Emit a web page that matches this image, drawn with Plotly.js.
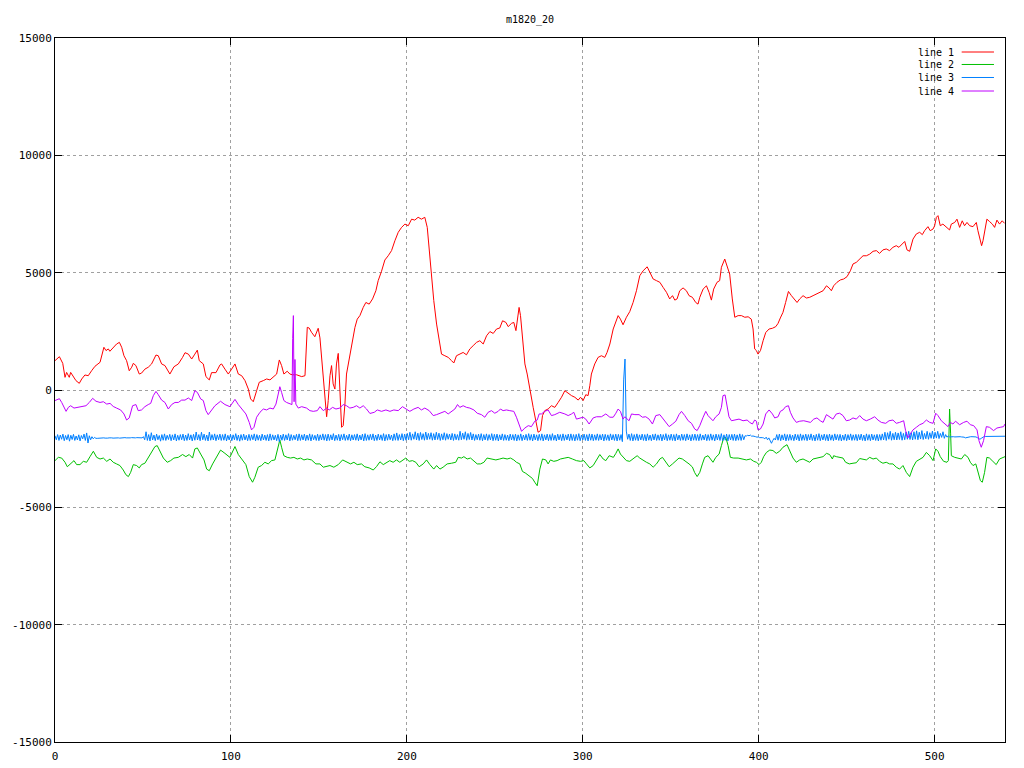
<!DOCTYPE html>
<html><head><meta charset="utf-8">
<script src="https://cdn.plot.ly/plotly-3.0.1.min.js"></script>
<style>html,body{margin:0;padding:0;background:#fff}#chart{width:1024px;height:768px}</style>
</head><body><div id="chart"></div>
<script>
const chartTitle = "m1820_20";
const seriesNames = ["line 1", "line 2", "line 3", "line 4"];
const xTicks = [0, 100, 200, 300, 400, 500];
const yTicks = [-15000, -10000, -5000, 0, 5000, 10000, 15000];

const line1X = [0,2.5,4.4,5.7,6.6,8.1,8.9,10.4,11.9,13.8,15.2,17,18.9,20.8,22.7,25.6,27.8,29,30.3,31.2,33.1,35,36.6,37.9,39.2,40.7,42.2,43.6,44.5,46,47.9,49.2,51.1,53,54.9,56.3,57.4,58.7,60.6,62.5,65.3,67.6,70.1,72.5,73.9,75.8,77.7,79.5,80.9,82,84.3,85.8,87.7,89,91.5,93.8,94.7,96.6,98.5,100.4,102.3,104.2,106.1,108,109.9,111.2,112.7,114.6,116.1,118.4,120.3,122.2,124.1,126,127.5,128.8,130.1,132,133.5,135,137.3,140.2,142.1,143.4,144.5,145.8,147.7,149.6,150.6,152.1,153.4,154.4,155.3,156.3,157.2,158.1,159.1,160,161,161.9,162.9,163.8,164.8,165.7,166.7,167.6,169.1,170.5,171.8,173.3,175.2,176.7,178.6,180.5,182.4,183.7,185.6,187.5,189.4,191.3,193.2,195.1,197,198.9,200.8,202.7,204.5,206.4,208.3,210.2,211.6,212.7,214,215.3,216.9,218.4,219.7,221.6,223.5,225.4,226.7,228.2,230.1,232,233.9,235.8,237.7,239.6,241.5,243.4,245.3,247.2,249.1,251,252.8,254.4,256.3,257.6,259.5,260.8,262,262.9,263.8,264.6,265.7,267.1,268.4,269.9,271.8,273.3,274.6,276,277.1,278.4,280.3,282.2,284.1,286,287.9,289.8,291.7,293.6,295.5,297.4,298.7,300.2,301.7,303,304,304.9,306.8,308.7,310.6,312.5,313.8,315.4,317.3,318.8,320.1,321.4,322.9,324.8,326.7,328.6,330.5,332.4,334.3,336.6,338.1,340,341.9,343.8,345.7,347.6,349.4,351,352.3,353.6,355.1,357,358.9,360.4,362.3,364.2,365.5,366.5,368.4,370.3,371.8,373.1,374.4,376.3,377.8,378.8,380.7,382,383.5,385,386.4,388.3,390.2,392.1,394,395.8,396.8,397.7,398.7,399.6,401,402.5,404,405.9,407.8,409.7,411,412.3,413.8,415.3,416.9,418.6,420.5,421.8,423.3,425.2,427.1,429,430.9,432.8,434.7,436.6,438.5,440,441.3,442.6,444.5,446.4,448.3,450.2,452.1,453.6,455.5,457.4,459.3,461.2,463.1,465,466.9,468.7,470.6,472.5,474.4,476.3,478.2,479.7,481.6,483,484.3,485.8,487.7,489.6,491.5,493,494.3,496.2,497.5,499.1,500,501,501.9,503.2,504.7,506.6,508.5,509.5,511.4,512.7,514.2,515.7,517,518.4,519.9,521.8,523.7,524.6,525.6,526.7,527.5,528.4,529.7,531.2,532.8,534.1,535.4,536.9,538.4,539.8];
const line1Y = [1250,1420,1136,540,750,540,750,570,400,284,470,640,610,820,1010,1180,1820,1680,1750,1650,1820,1960,2030,1820,1460,1250,820,970,1136,1040,680,720,890,970,1110,1320,1490,1460,1110,1040,680,990,1110,1390,1590,1530,1320,1530,1700,1250,1110,570,430,740,740,1070,1110,890,680,890,1110,680,610,400,40,-380,-500,-30,330,400,470,430,540,680,1280,1040,680,800,680,650,650,570,610,2670,2640,2460,2270,2630,2220,820,-30,-1140,-450,610,1040,260,40,1110,1560,330,-1590,-1520,-600,680,1110,1530,2100,2670,3020,3170,3520,3730,3660,3880,4230,4660,5060,5540,5720,5940,6360,6720,6930,7070,7000,7280,7240,7360,7280,7360,6930,5940,4800,3810,2810,2100,1530,1460,1390,1250,1150,1460,1530,1600,1500,1750,1890,2030,2100,1960,2310,2490,2410,2600,2640,2950,2880,2700,2840,2880,2530,2950,3520,3170,2100,1110,680,-30,-740,-1310,-1800,-1730,-1090,-880,-810,-670,-740,-530,-310,-30,-140,-240,-310,-430,-310,-450,-200,-240,180,680,1110,1390,1460,1390,1600,1960,2600,2880,3170,3020,2780,3100,3340,3730,4230,4870,5080,5250,5010,4730,4660,4590,4370,4160,3880,4020,3830,3880,4230,4350,4230,4020,3950,3730,3660,3950,4300,4440,4160,3830,4300,4590,4660,5230,5580,5300,4940,3880,3100,3170,3170,3100,3120,3020,2600,1750,1680,1530,1680,2100,2450,2600,2630,2700,2840,3070,3310,3730,4200,4020,3830,3730,3880,4020,3920,3950,4020,4090,4160,4230,4440,4350,4230,4440,4590,4690,4730,4830,5080,5370,5440,5600,5720,5720,5790,5910,5940,5820,5970,6010,5940,6080,6150,6080,6250,6330,5970,5910,6430,6650,6720,6620,6790,6960,6790,6860,7000,7360,7430,7000,7070,6960,6820,7070,7140,7280,6930,7210,7000,7140,7000,6960,7140,6790,6430,6150,6360,6790,7280,7180,7070,6930,7240,7070,7210,7100];

const line2X = [0,1.9,3.8,5.7,7,8.9,10.8,12.3,14.2,16.1,18,19.9,21.8,23.7,25.6,27.5,29.4,31.3,33.1,35,36.9,38.8,40.3,41.7,43,44.5,46.4,47.9,49.2,51.1,53,54.9,56.8,58.1,59.7,61.6,63.8,65.7,67.6,70.1,72.5,74.4,76.3,78.2,79.5,80.9,82.8,84.7,86.2,87.7,89.6,91.9,94.1,96.6,99.4,102.3,104.2,106.1,108.5,110.4,112.3,113.6,115.5,117.4,119.3,121.2,123.1,125,126.5,127.8,128.8,130.1,132,133.9,135.8,137.7,139.6,141.5,143.4,145.8,148.3,150.6,152.5,154.4,156.3,158.5,161,163.5,165.7,168,169.9,171.8,174.2,176.1,178.6,180.9,182.8,184.7,186.6,188.4,190.3,192.2,194.1,196,197.9,199.4,201.3,203.2,205.1,207,209.3,211.2,213.1,215.3,216.9,218.8,220.6,222.9,225.4,227.8,229.2,231.1,232.4,234.3,236.2,238.1,240,241.9,243.8,245.6,248.1,250.6,252.8,254.7,257,258.9,260.8,262.3,264.2,265.7,267.6,269.5,271.4,272.7,274.1,275.6,277.1,279,280.3,281.6,283.5,285.4,287.3,289.8,291.7,294.1,296.4,298.7,300.6,302.1,304,305.9,307.8,309.7,311.6,313.1,315,317.4,318.8,320.1,321.4,322.9,324.8,326.7,328.6,330.9,332.4,334.3,336.2,338.1,340,341.9,343.8,345.3,347.2,349.1,351,352.9,354.7,356.6,358.5,360.4,362.3,363.6,365,366.5,368,369.3,371.2,372.5,374,375.6,377.5,378.8,380.1,381.3,382.6,383.9,385.8,388.3,390.7,393,395.3,397.2,398.7,400.2,401.5,402.8,404.4,406.3,408.1,410,411.9,413.8,416.1,417.6,419.5,421.4,423.3,425.2,427.1,429,430.9,432.8,434.7,436.6,438.5,440.3,441.9,442.6,444.1,446,447.9,449.4,451.5,453.6,455.5,457.4,459.3,461.2,463.1,465,466.9,468.7,470.6,472.5,474.4,476.3,478.2,480.1,482,483.9,485.8,487.7,489.6,491.5,493.4,495.3,497.2,499.1,500.6,501.9,503.2,505.1,507,507.8,508.1,508.5,509.1,509.5,511.4,513.3,515.2,517.1,519,520.3,521.8,523.4,524.6,526,527.1,528.4,529.7,531.2,533.1,535,536.9,538.8,540];
const line2Y = [-3010,-2870,-2900,-3080,-3270,-3150,-3010,-3180,-3180,-3040,-3080,-2840,-2610,-2870,-2940,-2900,-3040,-2940,-3080,-3150,-3220,-3410,-3610,-3690,-3510,-3180,-3220,-3320,-3180,-3120,-2870,-2610,-2410,-2370,-2610,-2900,-3080,-3010,-2900,-2870,-2750,-2840,-2750,-2900,-2510,-2470,-2730,-2980,-3370,-3440,-3150,-2840,-2560,-2700,-2870,-2410,-2750,-2940,-3180,-3690,-3930,-3720,-3290,-3220,-3080,-3150,-3010,-2980,-2440,-2130,-2440,-2800,-2870,-2900,-2870,-2940,-2900,-2980,-2940,-2980,-3150,-3150,-3290,-3270,-3220,-3290,-3180,-2980,-3080,-3150,-3080,-3180,-3150,-3270,-3320,-3410,-3260,-3060,-3180,-3080,-3010,-3080,-2980,-3080,-2980,-2900,-3040,-3010,-3080,-3270,-3150,-2980,-3180,-3370,-3220,-3370,-3290,-3150,-3120,-3080,-2870,-2900,-2840,-2940,-2900,-3010,-3150,-3150,-3080,-2900,-2940,-2980,-2940,-2900,-2940,-2900,-2980,-3080,-3150,-3470,-3550,-3650,-3770,-3930,-4080,-3370,-2940,-2980,-3150,-2980,-3040,-3010,-2940,-2900,-2870,-2940,-3010,-3040,-3010,-3150,-3320,-3220,-2980,-2750,-2940,-3010,-2800,-2870,-2700,-2510,-2730,-2840,-3010,-3040,-2940,-2800,-2900,-3010,-3080,-3150,-3290,-3150,-2940,-2870,-3080,-3270,-3150,-3040,-2900,-2940,-3040,-3150,-3280,-3520,-3690,-3510,-3150,-2870,-2800,-2940,-3080,-2870,-2730,-2370,-2040,-2020,-2370,-2870,-2900,-2900,-2940,-2980,-2940,-3040,-3080,-3180,-3080,-2840,-2660,-2560,-2580,-2700,-2610,-2440,-2330,-2610,-2900,-3080,-2980,-2940,-3010,-3080,-2940,-2900,-2870,-2840,-2700,-2750,-2940,-2800,-2840,-2870,-2900,-3080,-3150,-3120,-3100,-2920,-2940,-2980,-2870,-2940,-2900,-3040,-3120,-3080,-3150,-3150,-3290,-3370,-3220,-3510,-3690,-3290,-3040,-2940,-2870,-2660,-2800,-3010,-2510,-2610,-2840,-3040,-3080,-3010,-1870,-810,-1870,-2800,-2870,-2900,-2940,-2750,-2870,-3080,-3220,-3150,-3510,-3860,-3930,-3510,-2870,-2900,-3040,-3180,-2940,-2870,-2840];

const line3Step = 0.75;
const line3Y = [
-1950,-2120,-1900,-2150,-1920,-2100,-1880,-2160,-1940,-2120,-1900,-2180,-1930,-2110,-1890,-2150,-1960,-2130,-1910,-2170,-1940,-2080,-1880,-2150,-1830,-2260,-1950,-2120,-1990,-2080,-2020,-2060,
-2060,-2050,-2070,-2060,-2050,-2040,-2050,-2060,-2050,-2040,-2030,-2040,-2050,-2040,-2030,-2040,-2040,-2050,-2040,-2030,-2040,-2030,-2040,-2050,-2040,-2040,-2030,-2040,-2050,-2040,-2030,-2040,-2040,-2030,-2040,
-1990,-2120,-1780,-2150,-1900,-2170,-1820,-2130,-1920,-2160,-1880,-2120,-1940,-2180,-1900,-2140,-1870,-2150,-1930,-2110,
-1890,-2160,-1910,-2130,-1870,-2170,-1930,-2140,-1900,-2120,-1880,-2160,-1920,-2150,-1860,-2130,-1910,-2170,-1890,-2140,
-1790,-2130,-1900,-2160,-1800,-2120,-1880,-2150,-1920,-2170,-1790,-2140,-1900,-2130,-1870,-2160,-1910,-2120,-1880,-2150,
-1900,-2140,-1870,-2170,-1930,-2130,-1890,-2160,-1910,-2120,-1860,-2150,-1920,-2180,-1900,-2140,-1880,-2130,-1930,-2160,
-1890,-2150,-1910,-2120,-1870,-2170,-1900,-2140,-1930,-2160,-1880,-2130,-1920,-2150,-1900,-2170,-1870,-2140,-1910,-2130,
-1930,-2160,-1890,-2200,-1920,-2140,-1880,-2150,-1910,-2130,-1860,-2170,-1900,-2140,-1930,-2120,-1890,-2160,-1870,-2150,
-1910,-2130,-1880,-2160,-1920,-2140,-1870,-2170,-1900,-2120,-1930,-2150,-1880,-2160,-1910,-2130,-1870,-2140,-1900,-2170,
-1880,-2150,-1910,-2130,-1860,-2160,-1920,-2140,-1890,-2170,-1900,-2120,-1870,-2150,-1930,-2140,-1880,-2160,-1910,-2130,
-1900,-2140,-1870,-2160,-1920,-2130,-1880,-2170,-1860,-2150,-1910,-2140,-1890,-2120,-1870,-2160,-1920,-2150,-1880,-2130,
-1910,-2150,-1860,-2170,-1900,-2140,-1880,-2120,-1920,-2160,-1870,-2140,-1830,-2150,-1900,-2130,-1860,-2160,-1880,-2140,
-1850,-2120,-1800,-2140,-1870,-2100,-1780,-2130,-1840,-2150,-1810,-2110,-1860,-2140,-1790,-2120,-1850,-2100,-1820,-2140,
-1860,-2130,-1800,-2110,-1840,-2150,-1870,-2120,-1820,-2140,-1860,-2100,-1880,-2130,-1850,-2150,-1870,-2120,-1900,-2140,
-1760,-2120,-1840,-2100,-1780,-2140,-1850,-2110,-1810,-2130,-1870,-2150,-1900,-2120,-1880,-2140,-1860,-2160,-1900,-2130,
-1870,-2150,-1900,-2130,-1860,-2160,-1890,-2140,-1880,-2170,-1910,-2130,-1870,-2150,-1900,-2140,-1920,-2160,-1880,-2130,
-1900,-2150,-1880,-2170,-1910,-2140,-1870,-2160,-1920,-2130,-1890,-2150,-1860,-2140,-1900,-2170,-1880,-2130,-1910,-2160,
-1890,-2140,-1870,-2170,-1910,-2130,-1880,-2160,-1900,-2150,-1860,-2140,-1920,-2170,-1880,-2130,-1900,-2160,-1870,-2150,
-1910,-2130,-1880,-2160,-1870,-2150,-1900,-2170,-1890,-2140,-1860,-2160,-1920,-2130,-1880,-2150,-1900,-2170,-1870,-2140,
-1880,-2160,-1910,-2140,-1870,-2150,-1900,-2130,-1880,-2170,-1890,-2140,-1910,-2160,-1870,-2130,-1900,-2150,-1880,-2170,
-1890,-2140,-1900,-2200,
430,1320,-1750,
-2100,-1880,-2150,-1860,-2170,-1900,-2140,-1870,-2160,-1910,-2130,-1880,-2150,-1900,-2170,-1870,-2140,-1920,-2160,-1890,
-2130,-1870,-2150,-1910,-2140,-1880,-2170,-1900,-2130,-1860,-2160,-1910,-2140,-1880,-2150,-1900,-2170,-1870,-2130,-1920,
-2150,-1880,-2140,-1900,-2160,-1870,-2130,-1910,-2170,-1890,-2140,-1880,-2150,-1900,-2160,-1870,-2140,-1920,-2130,-1880,
-2160,-1900,-2150,-1870,-2140,-1910,-2170,-1880,-2130,-1900,-2150,-1860,-2160,-1910,-2140,-1880,-2170,-1900,-2130,-1890,
-2150,-1880,-2160,-1910,-2140,-1870,-2150,-1900,-2120,-1950,
-1960,-1930,-1950,-1920,-1970,-1960,-1990,-1990,-2010,-2000,-2030,-2020,-2030,-2040,
-2080,-2010,-2120,-2040,-2180,-2270,-2150,-2060,-2130,
-1900,-2140,-1880,-2160,-1910,-2130,-1870,-2170,-1900,-2150,-1890,-2140,-1920,-2160,-1880,-2130,-1900,-2170,-1870,-2150,
-1910,-2140,-1880,-2160,-1900,-2130,-1870,-2150,-1920,-2170,-1890,-2140,-1860,-2160,-1910,-2130,-1880,-2150,-1900,-2170,
-1880,-2140,-1910,-2160,-1870,-2130,-1900,-2150,-1890,-2170,-1920,-2140,-1880,-2160,-1900,-2130,-1870,-2150,-1910,-2140,
-1890,-2160,-1900,-2130,-1880,-2150,-1920,-2170,-1870,-2140,-1900,-2160,-1880,-2130,-1910,-2150,-1890,-2170,-1900,-2140,
-1870,-2130,-1800,-2150,-1820,-2100,-1760,-2140,-1850,-2120,-1800,-2130,-1830,-2110,-1780,-2140,-1850,-2120,-1790,-2100,
-1760,-2110,-1820,-2130,-1780,-2100,-1740,-2120,-1800,-2090,-1730,-2110,-1850,-2080,-1760,-2100,-1820,-2060,-1750,-2080,
-1800,-2050,-1760,-2070,-1850,-2020,-1780,-2060,-1900,-2010,-1960,-2000,
-1990,-1990,-1990,-2000,-1990,-1990,-1990,-1990,-2000,-2000,-2010,-2040,-2020,-2000,-2000,-1990,-1990,-1990,-1990,-2000,-2030,-2080,-2100,-2060,-2010,-1990,-1980,-1980,-1980,-1980,-1970,-1980,-1970,-1970,-1970,-1970,-1970,-1970,-1970,-1970,-1970,-1970
];
const line3X = line3Y.map((_, i) => i * line3Step);

const line4X = [0,2.5,3.8,5.1,6.3,7.6,8.9,10.8,13.3,15.2,17.6,19.5,21.4,23.3,25.6,27.5,29.4,31.3,33.1,35,37.3,39.2,40.7,42.2,44.1,46,47.3,49.2,51.1,53,54.4,55.9,57.4,58.7,60.6,62.5,64.4,66.3,68.2,70.1,72,73.9,75.8,77.7,79.5,80.9,82.8,84.3,85.8,87.1,89,90.9,94.1,96.6,99.4,102.3,104.2,106.1,108.5,110.4,111.7,113.1,114.6,116.5,118.4,120.3,122.2,124.1,125.6,126.9,127.8,128.8,130.1,131.6,133.5,134.7,135.1,135.5,135.9,136.4,136.9,138.3,140.2,143,144.9,146.8,149.1,150.6,152.5,154.4,155.9,157.8,159.7,161.9,163.8,165.7,167.6,169.5,171.4,173.3,175.2,177.1,179,181.5,183.2,185.6,188.1,190.4,192.6,195.1,197.5,199.8,201.7,204,206.4,208.3,210.2,212.7,215,216.9,219.1,221.6,223.5,225.4,227.3,228.8,230.1,232,233.9,235.8,238.1,240,242.4,244.3,246.2,248.1,250,251.9,253.2,254.7,256.6,258.5,260.8,262.3,263.8,265.2,267.1,269,270.8,272.7,274.1,275.2,276.5,278.4,280.3,282.2,284.1,286.9,289.8,291.7,293.6,294.9,296.4,298.3,300.2,301.7,303.6,305.9,307.8,310.6,313.1,315.4,317.3,318.8,320.1,321.4,322.9,323.9,325.2,326.3,327.7,329.6,332,333.9,335.8,337.7,339.6,341.5,343.8,345.3,347.2,349.1,351,352.9,354.7,356.1,358,359.9,361.8,363.6,365,366.5,368.4,369.9,371.2,372.5,374,375.6,377.5,378.8,379.7,380.9,382,383.1,384.5,386.4,388.8,391.1,393.4,394.9,396.4,397.7,398.7,399.6,401,402.5,404,405.9,407.8,409.1,411,412.3,413.8,415.3,416.9,418,419.5,421.4,423.3,425.6,427.5,429.4,431.3,433.1,435,436.6,438.5,440.3,442.2,444.1,446,447.9,449.8,451.7,453.6,455.5,457.4,459.3,461.2,463.4,465.9,467.8,469.7,472.2,474.1,476.3,478.2,480.1,482.4,483.5,484.8,486.2,487.7,489.6,491.5,493.4,495.3,497.2,499.1,500.6,501.9,503.8,505.7,507.6,508.9,510.4,511.9,514.2,516.5,518.4,520.3,522.2,524.1,525.2,526.5,527.8,529.4,531.2,533.5,535.4,537.3,539.2,540];
const line4Y = [-450,-370,-530,-740,-910,-740,-670,-770,-740,-710,-670,-530,-355,-480,-530,-500,-600,-570,-700,-770,-850,-1020,-1280,-1190,-670,-620,-880,-850,-710,-620,-570,-240,-60,-200,-430,-530,-810,-620,-530,-530,-430,-430,-340,-450,-30,-100,-380,-450,-880,-1050,-850,-670,-480,-620,-710,-400,-620,-810,-1020,-1380,-1700,-1590,-1160,-950,-810,-850,-770,-810,-600,-170,140,-100,-450,-530,-600,-620,2200,3170,-500,1300,-600,-770,-710,-770,-880,-910,-880,-710,-880,-770,-850,-740,-810,-770,-620,-670,-770,-740,-670,-770,-670,-810,-1000,-950,-850,-910,-850,-910,-850,-880,-710,-810,-910,-810,-740,-850,-770,-880,-1090,-1050,-990,-910,-1020,-910,-810,-620,-740,-670,-740,-770,-850,-990,-1050,-1160,-950,-880,-990,-910,-810,-880,-850,-880,-910,-1160,-1520,-1760,-1620,-1520,-1560,-1330,-1280,-1020,-1020,-910,-850,-1090,-1050,-950,-1020,-1090,-1020,-950,-1240,-1190,-1160,-1240,-1450,-1190,-1140,-1140,-1020,-1160,-1160,-990,-810,-910,-1240,-1140,-1240,-1310,-1020,-1050,-1050,-1160,-1140,-1240,-1450,-1090,-1050,-1190,-1380,-1560,-1450,-1330,-1050,-910,-1090,-1310,-1420,-1660,-1730,-1520,-1160,-910,-1090,-1190,-1310,-1140,-1020,-740,-240,-210,-600,-1140,-1310,-1280,-1240,-1310,-1280,-1380,-1450,-1280,-1330,-1700,-1660,-1450,-1020,-850,-1020,-1190,-1140,-910,-850,-710,-670,-950,-1190,-1380,-1330,-1310,-1330,-1380,-1240,-1190,-1310,-1380,-1050,-1140,-1240,-1020,-990,-1090,-1310,-1280,-1190,-1240,-1090,-1240,-1310,-1240,-1140,-1280,-1380,-1420,-1310,-1280,-1420,-1380,-1310,-1730,-2040,-1870,-1700,-1590,-1480,-1420,-1280,-1380,-1420,-990,-1090,-1310,-1420,-1560,-1380,-1450,-1330,-1480,-1380,-1330,-1480,-1520,-1700,-2160,-2440,-2160,-1560,-1590,-1730,-1620,-1590,-1560,-1450];

const seriesColors = ["#ff0000", "#00c000", "#0080ff", "#c000ff"];
const seriesX = [line1X, line2X, line3X, line4X];
const seriesY = [line1Y, line2Y, line3Y, line4Y];

const traces = seriesNames.map((name, k) => ({
  type: "scatter", mode: "lines", name: name,
  x: seriesX[k], y: seriesY[k],
  line: { color: seriesColors[k], width: 1 },
  showlegend: false, hoverinfo: "skip"
}));

const tickFont = { family: "DejaVu Sans Mono, monospace", size: 11, color: "#000" };
const axisBase = {
  showline: true, linecolor: "#000", linewidth: 1, mirror: "ticks",
  ticks: "inside", ticklen: 7, tickwidth: 1, tickcolor: "#000",
  showgrid: true, gridcolor: "#a0a0a0", gridwidth: 1, griddash: "dot",
  zeroline: false, tickfont: tickFont, fixedrange: true
};

// legend drawn gnuplot-style: label on the left, line sample on the right
const legendRows = [0.9801, 0.9624, 0.9439, 0.9247];
const annotations = seriesNames.map((name, k) => ({
  xref: "paper", yref: "paper", x: 0.9484, y: legendRows[k],
  xanchor: "right", yanchor: "middle", showarrow: false, text: name,
  font: { family: "DejaVu Sans Mono, monospace", size: 10, color: "#000" }
}));
const shapes = seriesNames.map((name, k) => ({
  type: "line", xref: "paper", yref: "paper",
  x0: 0.9544, x1: 0.9884, y0: legendRows[k], y1: legendRows[k],
  line: { color: seriesColors[k], width: 1 }
}));

const layout = {
  width: 1024, height: 768,
  margin: { l: 55, r: 19, t: 38, b: 26, pad: 0 },
  paper_bgcolor: "#fff", plot_bgcolor: "#fff",
  title: {
    text: chartTitle, x: 0.5, xref: "paper", xanchor: "center",
    y: 1 - 19 / 768, yref: "container", yanchor: "middle",
    font: { family: "DejaVu Sans Mono, monospace", size: 10, color: "#000" }
  },
  xaxis: Object.assign({}, axisBase, {
    range: [0, 540], tickmode: "array", tickvals: xTicks, ticktext: xTicks.map(String),
    ticklabelstandoff: 4
  }),
  yaxis: Object.assign({}, axisBase, {
    range: [-15000, 15000], tickmode: "array", tickvals: yTicks, ticktext: yTicks.map(String)
  }),
  showlegend: false,
  annotations: annotations,
  shapes: shapes
};

Plotly.newPlot("chart", traces, layout, { displayModeBar: false, staticPlot: true });
</script>
</body></html>
